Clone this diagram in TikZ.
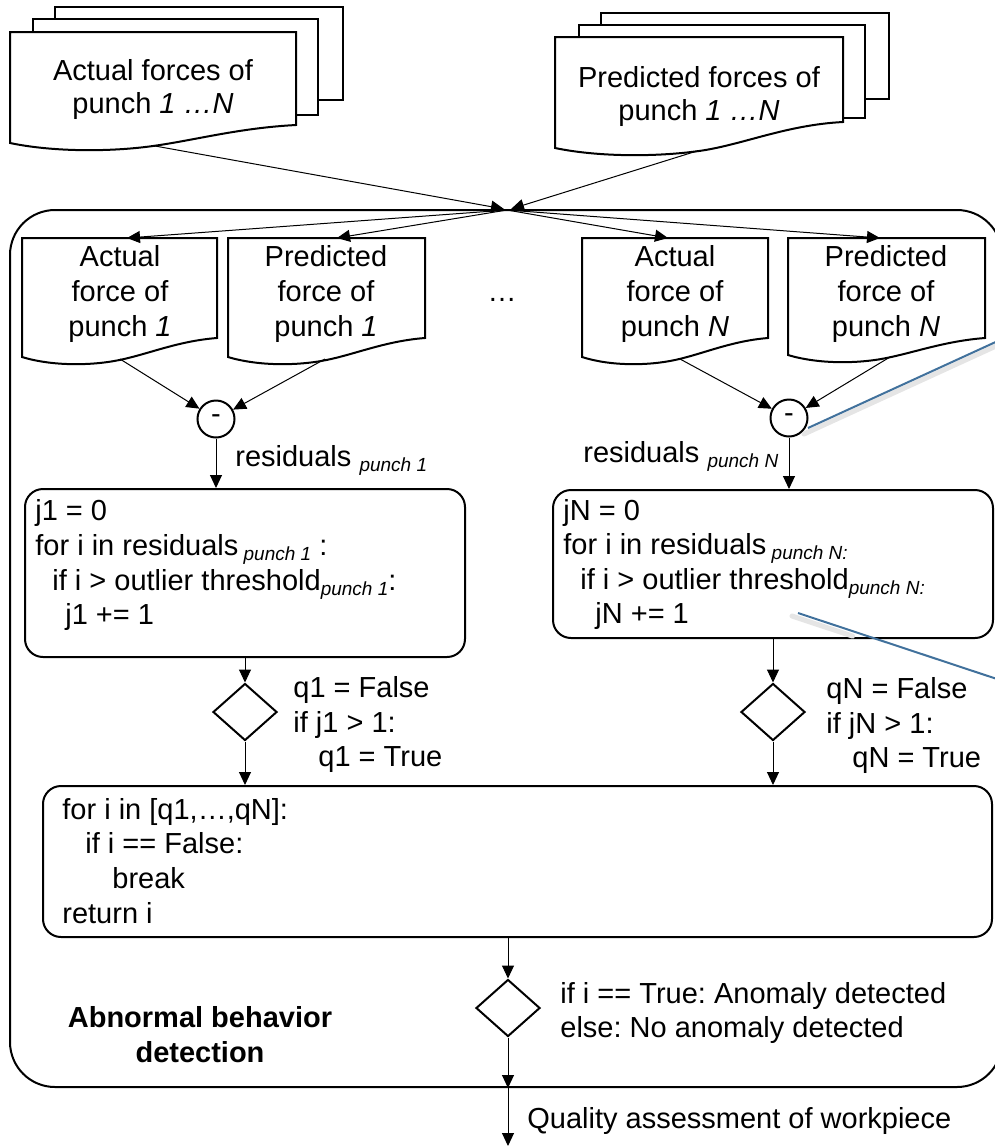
\documentclass[tikz,border=0pt]{standalone}
\usepackage{fontspec}
\setmainfont{Liberation Sans}
\usetikzlibrary{arrows.meta,shapes.geometric,calc}
\definecolor{calloutblue}{HTML}{41719C}
\frenchspacing
% small italic index set below the baseline
\newcommand\subidx[1]{\raisebox{-2.5pt}{\fontsize{9.5}{10}\selectfont\itshape #1}}
% document shape: left, top, right, bottom-left y, bottom-right y (wavy bottom edge)
\newcommand\docpath[5]{%
  \path[outline] (#1,#2) -- (#3,#2) -- (#3,#5)
    .. controls ({#1+0.8*(#3-#1)},{#5+3}) and ({#1+0.65*(#3-#1)},{#4-3}) .. ({#1+0.5*(#3-#1)},{#4+3})
    .. controls ({#1+0.35*(#3-#1)},{#4+9}) and ({#1+0.15*(#3-#1)},{#4+9}) .. (#1,#4) -- cycle;}

\begin{document}
\begin{tikzpicture}[x=0.5pt,y=-0.5pt,
  txt/.style={font=\fontsize{14.5}{17.5}\selectfont, inner sep=0pt, anchor=base},
  lft/.style={txt, anchor=base west},
  heading/.style={txt, font=\fontsize{14.5}{17.5}\selectfont\bfseries},
  outline/.style={draw=black, line width=1pt, fill=white},
  conn/.style={draw=black, line width=0.5pt, -{Triangle[length=6.5pt,width=6pt]}},
  rbox/.style={draw=black, line width=1pt, rounded corners=9pt, inner sep=0pt},
  decision/.style={diamond, draw=black, line width=1pt, minimum width=32pt, minimum height=28.5pt, inner sep=0pt},
  minus/.style={circle, draw=black, line width=1pt, minimum size=18.5pt, inner sep=0pt, font=\fontsize{14.5}{17.5}\selectfont},
  callout/.style={draw=calloutblue, line width=1pt},
  calloutshade/.style={draw=black!10, line width=2.5pt, line cap=round}
]
\useasboundingbox (0,0) rectangle (995,1147);

% ---------- input stacks ----------
\path[outline] (55,7) rectangle (343,100);
\path[outline] (33,19) rectangle (318,115);
\docpath{10}{32}{296}{143}{125}
\node[txt] (actAll1) at (153,80) {Actual forces of};
\node[txt] (actAll2) at (153,113) {punch \textit{1 …N}};

\path[outline] (601,13) rectangle (889,99);
\path[outline] (579,25) rectangle (865,118);
\docpath{555}{37}{843}{148}{122}
\node[txt] (predAll1) at (699,87) {Predicted forces of};
\node[txt] (predAll2) at (699,120) {punch \textit{1 …N}};

% ---------- detection frame ----------
\node[draw=black, line width=1pt, rounded corners=22.5pt, minimum width=496pt,
      minimum height=438.5pt, inner sep=0pt] (frame) at (506,648.5) {};

% single-punch documents
\docpath{22}{238}{217}{357}{338}
\docpath{228}{238}{425}{357}{338}
\docpath{582}{238}{768}{357}{338}
\docpath{788}{238}{985}{355}{338}

\node[txt] (a1l1) at (120,266) {Actual};
\node[txt] (a1l2) at (120,301) {force of};
\node[txt] (a1l3) at (120,336) {punch \textit{1}};
\node[txt] (p1l1) at (326,266) {Predicted};
\node[txt] (p1l2) at (326,301) {force of};
\node[txt] (p1l3) at (326,336) {punch \textit{1}};
\node[txt] (aNl1) at (675,266) {Actual};
\node[txt] (aNl2) at (675,301) {force of};
\node[txt] (aNl3) at (675,336) {punch \textit{N}};
\node[txt] (pNl1) at (886,266) {Predicted};
\node[txt] (pNl2) at (886,301) {force of};
\node[txt] (pNl3) at (886,336) {punch \textit{N}};
\node[txt] (dots) at (502,301) {…};

% connector end points
\coordinate (srcAct) at (155,146);
\coordinate (srcPred) at (697,151);
\coordinate (hubL) at (504,209);
\coordinate (hubR) at (511,209);
\coordinate (hub) at (507,210);
\coordinate (a1in) at (127,238);
\coordinate (p1in) at (337,238);
\coordinate (aNin) at (668,238);
\coordinate (pNin) at (880,238);
\coordinate (a1out) at (120,359);
\coordinate (p1out) at (325,359);
\coordinate (aNout) at (680,359);
\coordinate (pNout) at (890,357);

\draw[conn] (srcAct) -- (hubL);
\draw[conn] (srcPred) -- (hubR);
\draw[conn] (hub) -- (a1in);
\draw[conn] (hub) -- (p1in);
\draw[conn] (hub) -- (aNin);
\draw[conn] (hub) -- (pNin);

% residuals
\node[minus] (c1) at (216,419) {-};
\node[minus] (cN) at (789,418) {-};
\draw[conn] (a1out) -- (c1);
\draw[conn] (p1out) -- (c1);
\draw[conn] (aNout) -- (cN);
\draw[conn] (pNout) -- (cN);

\node[lft] (res1) at (235,466) {residuals \subidx{punch 1}};
\node[lft] (resN) at (583,462) {residuals \subidx{punch N}};

% outlier counting
\node[rbox, minimum width=220pt, minimum height=84pt] (b1) at (245,573) {};
\node[rbox, minimum width=220pt, minimum height=74pt] (bN) at (773,564) {};

\node[lft] (b1l1) at (35,520) {j1 = 0};
\node[lft] (b1l2) at (35,555) {for i in residuals\hspace{2.6pt}\subidx{punch 1} :};
\node[lft] (b1l3) at (52,590) {if i > outlier threshold\subidx{punch 1}:};
\node[lft] (b1l4) at (65,624) {j1 += 1};

\node[lft] (bNl1) at (563,520) {jN = 0};
\node[lft] (bNl2) at (563,554) {for i in residuals\hspace{2.6pt}\subidx{punch N:}};
\node[lft] (bNl3) at (580,589) {if i > outlier threshold\subidx{punch N:}};
\node[lft] (bNl4) at (595,623) {jN += 1};

\draw[conn] (c1) -- (c1 |- b1.north);
\draw[conn] (cN) -- (cN |- bN.north);

% per-punch decisions
\node[decision] (d1) at (245,712) {};
\node[decision] (dN) at (773,712) {};
\draw[conn] (b1.south) -- (d1.north);
\draw[conn] (bN.south) -- (dN.north);

\node[lft] (d1l1) at (293,697) {q1 = False};
\node[lft] (d1l2) at (293,732) {if j1 > 1:};
\node[lft] (d1l3) at (318,766) {q1 = True};
\node[lft] (dNl1) at (826,698) {qN = False};
\node[lft] (dNl2) at (826,733) {if jN > 1:};
\node[lft] (dNl3) at (852,767) {qN = True};

% combination of all punches
\node[rbox, minimum width=474.5pt, minimum height=75.5pt] (all) at (517.5,861.5) {};
\draw[conn] (d1.south) -- (d1 |- all.north);
\draw[conn] (dN.south) -- (dN |- all.north);

\node[lft] (alll1) at (62,819) {for i in [q1,…,qN]:};
\node[lft] (alll2) at (85,853) {if i == False:};
\node[lft] (alll3) at (112,888) {break};
\node[lft] (alll4) at (62,923) {return i};

% final decision
\node[decision] (d3) at (508,1008) {};
\draw[conn] (d3 |- all.south) -- (d3.north);
\draw[conn] (d3.south) -- (d3 |- frame.south);
\coordinate (result) at (508,1146);
\draw[conn] (d3 |- frame.south) -- (result);

\node[lft] (d3l1) at (560,1003) {if i == True: Anomaly detected};
\node[lft] (d3l2) at (560,1037) {else: No anomaly detected};

\node[heading] (title1) at (200,1027) {Abnormal behavior};
\node[heading] (title2) at (200,1062) {detection};

\node[lft] (quality) at (527,1128) {Quality assessment of workpiece};

% callout leaders
\coordinate (calA0) at (808,428);
\coordinate (calA1) at (1000,340);
\coordinate (calB0) at (798,613);
\coordinate (calB1) at (1000,680);
\draw[calloutshade] ($(calA0)+(-4,6)$) -- ($(calA1)+(-4,6)$);
\draw[calloutshade] ($(calB0)+(-6,3)$) -- ($(calB0)!0.3!(calB1)+(-6,3)$);
\draw[callout] (calA0) -- (calA1);
\draw[callout] (calB0) -- (calB1);
\end{tikzpicture}
\end{document}
